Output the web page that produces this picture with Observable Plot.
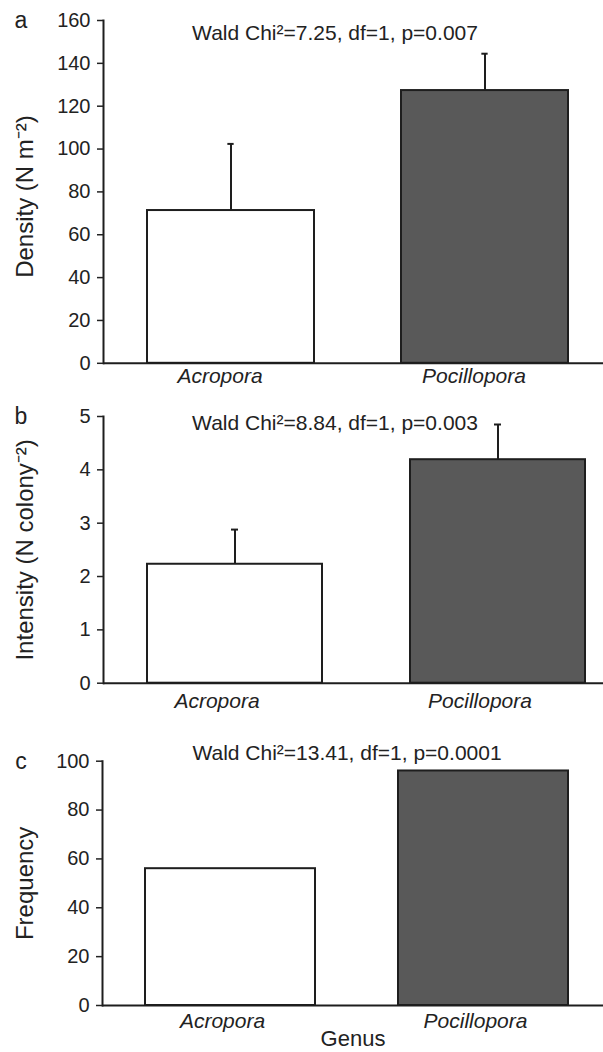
<!DOCTYPE html>
<html>
<head>
<meta charset="utf-8">
<script src="https://cdn.jsdelivr.net/npm/d3@7"></script>
<script src="https://cdn.jsdelivr.net/npm/@observablehq/plot@0.6"></script>
<style>
  html, body { margin: 0; padding: 0; background: #fff; }
  #chart svg { display: block; }
</style>
</head>
<body>
<div id="chart"></div>
<script>
// ---- data ----
const genus = ["Acropora", "Pocillopora"];
const density = [71.3, 127.3];
const densityErr = [31.1, 17.2];
const intensity = [2.23, 4.19];
const intensityErr = [0.65, 0.66];
const frequency = [56, 96];
const densityTicks = [0, 20, 40, 60, 80, 100, 120, 140, 160];
const intensityTicks = [0, 1, 2, 3, 4, 5];
const frequencyTicks = [0, 20, 40, 60, 80, 100];
const panelLetters = ["a", "b", "c"];
const stats = [
  "Wald Chi\u00b2=7.25, df=1, p=0.007",
  "Wald Chi\u00b2=8.84, df=1, p=0.003",
  "Wald Chi\u00b2=13.41, df=1, p=0.0001"
];
const yLabels = ["Density (N m\u207b\u00b2)", "Intensity (N colony\u207b\u00b2)", "Frequency"];
const xLabel = "Genus";

const ink = "#1e1e1e";
const font = "'Liberation Sans', Arial, Helvetica, sans-serif";

function panel(cfg) {
  const rows = genus.map((g, i) => ({
    genus: g,
    value: cfg.values[i],
    upper: cfg.err ? cfg.values[i] + cfg.err[i] : null
  }));
  const width = 603;
  const step = (cfg.x1 - cfg.x0) / (genus.length - cfg.pi + 2 * cfg.po);
  const bw = step * (1 - cfg.pi);
  const capInset = (bw - 7) / 2;

  const marks = [
    Plot.barY(rows, {x: "genus", y: "value", fill: "genus", stroke: ink, strokeWidth: 2})
  ];
  if (cfg.err) {
    marks.push(Plot.ruleX(rows, {x: "genus", y1: "value", y2: "upper", stroke: ink, strokeWidth: 2}));
    marks.push(Plot.tickY(rows, {x: "genus", y: "upper", insetLeft: capInset, insetRight: capInset, stroke: ink, strokeWidth: 2}));
  }
  marks.push(
    Plot.ruleY([0], {stroke: ink, strokeWidth: 2}),
    Plot.frame({anchor: "left", stroke: ink, strokeWidth: 2}),
    Plot.axisY({ticks: cfg.ticks, tickSize: 6, tickPadding: 7, fontSize: 20, label: null, color: "#222", strokeWidth: 1.5, tickFormat: d => String(d)}),
    Plot.axisX({tickSize: 0, tickPadding: cfg.xpad, fontSize: 21, fontStyle: "italic", label: null, color: "#222", dx: cfg.xdx}),
    Plot.text([cfg.stat], {text: d => d, frameAnchor: "top", textAnchor: "middle", lineAnchor: "top", dx: cfg.statDx, dy: cfg.statDy, fontSize: 21, fill: "#222"}),
    Plot.text([cfg.letter], {text: d => d, frameAnchor: "top-left", textAnchor: "middle", lineAnchor: "top", dx: 20.5 - cfg.ml, dy: -9, fontSize: 23, fill: "#222"}),
    Plot.text([cfg.ylabel], {text: d => d, frameAnchor: "left", textAnchor: "middle", lineAnchor: "middle", rotate: -90, dx: 25 - cfg.ml, dy: cfg.ylDy, fontSize: 24, fill: "#222"})
  );
  if (cfg.xlabel) {
    marks.push(Plot.text([cfg.xlabel], {text: d => d, frameAnchor: "bottom", textAnchor: "middle", lineAnchor: "top", dy: 25, fontSize: 22, fill: "#222"}));
  }

  return Plot.plot({
    width,
    height: cfg.height,
    marginTop: cfg.mt,
    marginBottom: cfg.mb,
    marginLeft: cfg.ml,
    marginRight: 0,
    style: {fontFamily: font, background: "white", overflow: "visible"},
    x: {domain: genus, range: [cfg.x0, cfg.x1], paddingInner: cfg.pi, paddingOuter: cfg.po, align: 0.5},
    y: {domain: cfg.domain},
    color: {domain: genus, range: ["#ffffff", "#595959"]},
    marks
  });
}

const chart = document.getElementById("chart");
chart.append(panel({
  values: density, err: densityErr, ticks: densityTicks, domain: [0, 160],
  height: 392, mt: 20, mb: 29.2, ml: 103, x0: 103, x1: 613, pi: 0.341, po: 0.1725,
  xpad: 5, xdx: -11, stat: stats[0], statDx: -18.5, statDy: 5,
  letter: panelLetters[0], ylabel: yLabels[0], ylDy: 4.6
}));
chart.append(panel({
  values: intensity, err: intensityErr, ticks: intensityTicks, domain: [0, 5],
  height: 330, mt: 24, mb: 39.3, ml: 103, x0: 103, x1: 629, pi: 0.3346, po: 0.1673,
  xpad: 10, xdx: -18, stat: stats[1], statDx: -18.5, statDy: -1,
  letter: panelLetters[1], ylabel: yLabels[1], ylDy: 0
}));
chart.append(panel({
  values: frequency, err: null, ticks: frequencyTicks, domain: [0, 100],
  height: 330, mt: 38.7, mb: 47, ml: 102, x0: 102, x1: 610.5, pi: 0.330, po: 0.166,
  xpad: 8, xdx: -8, stat: stats[2], statDx: -6, statDy: -15.7,
  letter: panelLetters[2], ylabel: yLabels[2], ylDy: 0, xlabel: xLabel
}));
</script>
</body>
</html>
